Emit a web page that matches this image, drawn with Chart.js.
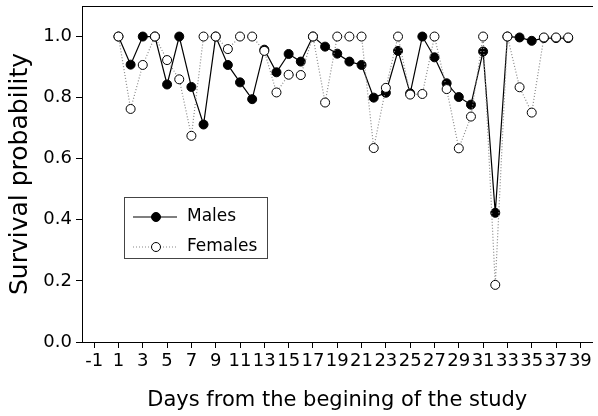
<!DOCTYPE html>
<html>
<head>
<meta charset="utf-8">
<script src="https://cdn.jsdelivr.net/npm/chart.js@4"></script>
<style>
  html, body { margin: 0; padding: 0; background: #fff; }
  #wrap { width: 598px; height: 416px; }
</style>
</head>
<body>
<div id="wrap"><canvas id="survChart"></canvas></div>
<script>
const days = [1, 2, 3, 4, 5, 6, 7, 8, 9, 10, 11, 12, 13, 14, 15, 16, 17, 18, 19,
  20, 21, 22, 23, 24, 25, 26, 27, 28, 29, 30, 31, 32, 33, 34, 35, 36, 37, 38];
const males = [1.0, 0.908, 1.0, 1.0, 0.843, 1.0, 0.835, 0.712, 1.0, 0.907, 0.850, 0.795, 0.957,
  0.883, 0.943, 0.918, 1.0, 0.967, 0.944, 0.918, 0.907, 0.800, 0.816, 0.953, 0.814, 1.0,
  0.932, 0.847, 0.802, 0.777, 0.951, 0.423, 1.0, 0.997, 0.986, 0.995, 0.995, 0.995];
const females = [1.0, 0.763, 0.907, 1.0, 0.923, 0.860, 0.675, 1.0, 1.0, 0.959, 1.0, 1.0, 0.953,
  0.817, 0.875, 0.874, 1.0, 0.784, 1.0, 1.0, 1.0, 0.635, 0.832, 1.0, 0.810, 0.812,
  1.0, 0.828, 0.634, 0.738, 1.0, 0.187, 1.0, 0.834, 0.751, 0.997, 0.997, 0.997];
const xTicks = [-1, 1, 3, 5, 7, 9, 11, 13, 15, 17, 19, 21, 23, 25, 27, 29, 31, 33, 35, 37, 39];
const yTicks = [0, 0.2, 0.4, 0.6, 0.8, 1.0];

const FONT = 'DejaVu Sans';

// legend drawn inside the plot, like the original
const boxLegend = {
  id: 'boxLegend',
  afterDatasetsDraw(chart) {
    const ctx = chart.ctx;
    const a = chart.chartArea;
    const x = a.left + 42, y = a.top + 191, w = 143, h = 61;
    ctx.save();
    ctx.fillStyle = '#fff';
    ctx.fillRect(x, y, w, h);
    ctx.strokeStyle = '#444';
    ctx.lineWidth = 1;
    ctx.strokeRect(x + 0.5, y + 0.5, w, h);
    chart.data.datasets.forEach((ds, i) => {
      const ly = y + 20 + i * 30;
      ctx.beginPath();
      ctx.setLineDash(ds.borderDash || []);
      ctx.strokeStyle = ds.borderColor;
      ctx.lineWidth = ds.borderWidth;
      ctx.moveTo(x + 9, ly);
      ctx.lineTo(x + 53, ly);
      ctx.stroke();
      ctx.setLineDash([]);
      ctx.beginPath();
      ctx.arc(x + 32, ly, ds.pointRadius, 0, Math.PI * 2);
      ctx.fillStyle = ds.pointBackgroundColor;
      ctx.fill();
      ctx.strokeStyle = ds.pointBorderColor;
      ctx.lineWidth = 1;
      ctx.stroke();
      ctx.fillStyle = '#000';
      ctx.font = '17px "' + FONT + '"';
      ctx.textBaseline = 'middle';
      ctx.fillText(ds.label, x + 63, ly);
    });
    ctx.restore();
  }
};

// no extra room for half tick labels at the ends of the axes
const noEdgePad = s => {
  s.paddingTop = 0; s.paddingBottom = 0;
  s.paddingLeft = 0; s.paddingRight = 0;
};

new Chart(document.getElementById('survChart'), {
  type: 'line',
  data: {
    datasets: [
      {
        label: 'Males',
        data: days.map((d, i) => ({ x: d, y: males[i] })),
        borderColor: '#000',
        borderWidth: 1.2,
        pointRadius: 4.5,
        pointBackgroundColor: '#000',
        pointBorderColor: '#000',
        pointBorderWidth: 1,
        tension: 0,
        order: 1
      },
      {
        label: 'Females',
        data: days.map((d, i) => ({ x: d, y: females[i] })),
        borderColor: '#888',
        borderWidth: 1.2,
        borderDash: [1, 2],
        pointRadius: 4.5,
        pointBackgroundColor: '#fff',
        pointBorderColor: '#000',
        pointBorderWidth: 1,
        tension: 0,
        order: 0
      }
    ]
  },
  options: {
    responsive: true,
    maintainAspectRatio: false,
    animation: false,
    devicePixelRatio: 1,
    clip: false,
    layout: { padding: { left: 0, right: 0, top: 6, bottom: 0 } },
    plugins: {
      legend: { display: false },
      tooltip: { enabled: false }
    },
    scales: {
      x: {
        type: 'linear',
        position: 'bottom',
        min: -2,
        max: 40,
        afterBuildTicks: s => { s.ticks = xTicks.map(v => ({ value: v })); },
        afterFit: s => { s.height = 74; noEdgePad(s); },
        ticks: {
          color: '#000',
          font: { family: FONT, size: 18 },
          padding: 3,
          maxRotation: 0,
          autoSkip: false
        },
        grid: { drawOnChartArea: false, tickLength: 6, color: '#000' },
        border: { color: '#000', width: 1 },
        title: {
          display: true,
          text: 'Days from the begining of the study',
          color: '#000',
          font: { family: FONT, size: 21 },
          padding: { top: 0, bottom: 3 }
        }
      },
      xTop: {
        type: 'linear',
        position: 'top',
        min: -2,
        max: 40,
        ticks: { display: false },
        grid: { drawOnChartArea: false, drawTicks: false },
        border: { color: '#000', width: 1 },
        afterFit: s => { s.height = 0; noEdgePad(s); }
      },
      y: {
        min: 0,
        max: 1.1,
        afterBuildTicks: s => { s.ticks = yTicks.map(v => ({ value: v })); },
        afterFit: s => { s.width = 82; noEdgePad(s); },
        ticks: {
          color: '#000',
          font: { family: FONT, size: 18 },
          padding: 4,
          callback: v => v.toFixed(1)
        },
        grid: { drawOnChartArea: false, tickLength: 6, color: '#000' },
        border: { color: '#000', width: 1 },
        title: {
          display: true,
          text: 'Survival probability',
          color: '#000',
          font: { family: FONT, size: 25 },
          padding: { top: 5, bottom: 0 }
        }
      }
    }
  },
  plugins: [boxLegend]
});
</script>
</body>
</html>
